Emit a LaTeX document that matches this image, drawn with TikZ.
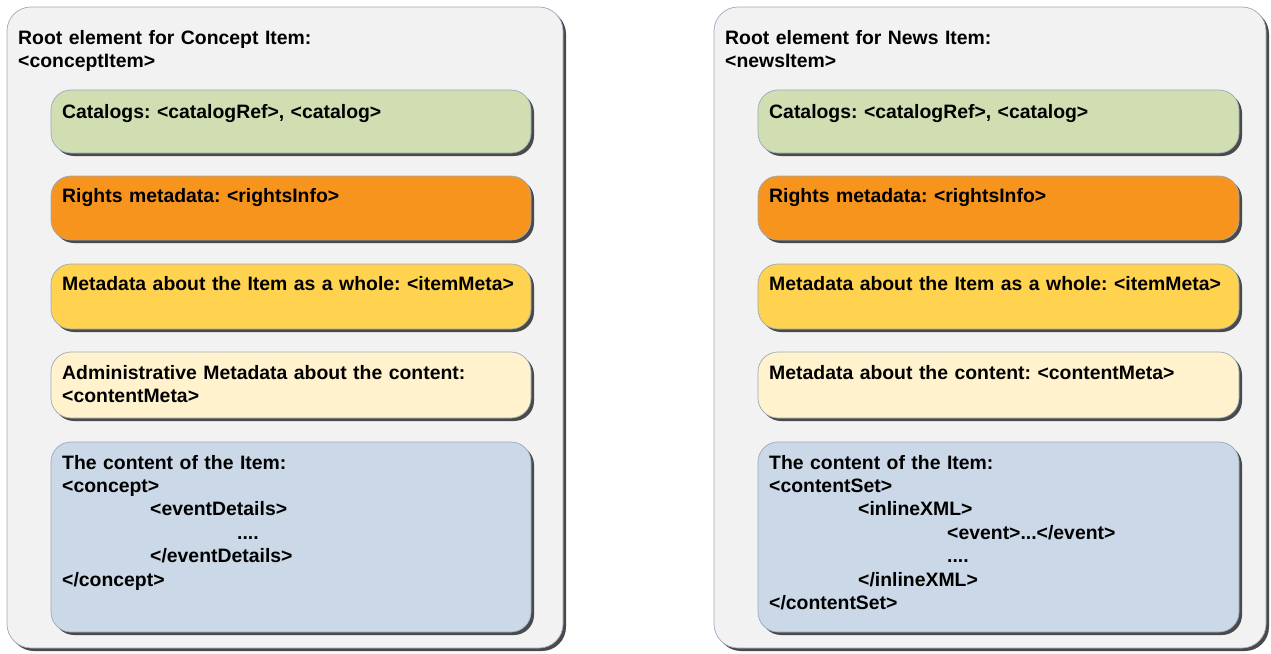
\documentclass[tikz,border=0pt]{standalone}
\usepackage{fontspec}
\setmainfont{Liberation Sans}
\usetikzlibrary{shadows}
\definecolor{outerfill}{HTML}{F2F2F2}
\definecolor{outerline}{HTML}{9AAABB}
\definecolor{shadowgray}{HTML}{4A4A4A}
\definecolor{catgreen}{HTML}{D0DEB2}
\definecolor{rightsorange}{HTML}{F7941E}
\definecolor{itemyellow}{HTML}{FFD24F}
\definecolor{metacream}{HTML}{FFF2CC}
\definecolor{contentblue}{HTML}{CBD8E7}
\begin{document}
\frenchspacing
\begin{tikzpicture}[x=1pt,y=-1pt,
  shbox/.style={draw=outerline, line width=0.7pt, anchor=north west, inner sep=0pt, outer sep=0pt,
    drop shadow={shadow xshift=3pt, shadow yshift=-3pt, fill=shadowgray, opacity=1}},
  outerbox/.style={shbox, fill=outerfill, rounded corners=24pt},
  innerbox/.style={shbox, rounded corners=20pt},
  txt/.style={anchor=base west, inner sep=0pt, align=left, text width=480pt,
    font=\fontsize{19.4}{23.4}\selectfont\bfseries\frenchspacing}]
\useasboundingbox (0,0) rectangle (1271,653);
% left panel
\node[outerbox, minimum width=556pt, minimum height=641pt] (L) at (7,7) {};
\node[innerbox, fill=catgreen, minimum width=480pt, minimum height=63pt] (L1) at (51,90) {};
\node[innerbox, fill=rightsorange, minimum width=480pt, minimum height=64pt] (L2) at (51,176) {};
\node[innerbox, fill=itemyellow, minimum width=480pt, minimum height=65pt] (L3) at (51,264) {};
\node[innerbox, fill=metacream, minimum width=480pt, minimum height=66pt] (L4) at (51,352) {};
\node[innerbox, fill=contentblue, minimum width=480pt, minimum height=190pt] (L5) at (51,442) {};
\node[txt] (Lt) at (18,44) {Root element for Concept Item:\\<conceptItem>};
\node[txt] (L1t) at (62,118) {Catalogs: <catalogRef>, <catalog>};
\node[txt] (L2t) at (62,202) {Rights metadata: <rightsInfo>};
\node[txt] (L3t) at (62,290) {Metadata about the Item as a whole: <itemMeta>};
\node[txt] (L4t) at (62,379) {Administrative Metadata about the content:\\<contentMeta>};
\node[txt] (L5t) at (62,469) {The content of the Item:\\<concept>\\\hspace*{88pt}<eventDetails>\\\hspace*{175pt}....\\\hspace*{88pt}</eventDetails>\\</concept>};
% right panel
\node[outerbox, minimum width=552pt, minimum height=641pt] (R) at (714,7) {};
\node[innerbox, fill=catgreen, minimum width=481pt, minimum height=63pt] (R1) at (758,90) {};
\node[innerbox, fill=rightsorange, minimum width=481pt, minimum height=64pt] (R2) at (758,176) {};
\node[innerbox, fill=itemyellow, minimum width=481pt, minimum height=65pt] (R3) at (758,264) {};
\node[innerbox, fill=metacream, minimum width=481pt, minimum height=66pt] (R4) at (758,352) {};
\node[innerbox, fill=contentblue, minimum width=481pt, minimum height=190pt] (R5) at (758,442) {};
\node[txt] (Rt) at (725,44) {Root element for News Item:\\<newsItem>};
\node[txt] (R1t) at (769,118) {Catalogs: <catalogRef>, <catalog>};
\node[txt] (R2t) at (769,202) {Rights metadata: <rightsInfo>};
\node[txt] (R3t) at (769,290) {Metadata about the Item as a whole: <itemMeta>};
\node[txt] (R4t) at (769,379) {Metadata about the content: <contentMeta>};
\node[txt] (R5t) at (769,469) {The content of the Item:\\<contentSet>\\\hspace*{89pt}<inlineXML>\\\hspace*{178pt}<event>...</event>\\\hspace*{178pt}....\\\hspace*{89pt}</inlineXML>\\</contentSet>};
\end{tikzpicture}
\end{document}
